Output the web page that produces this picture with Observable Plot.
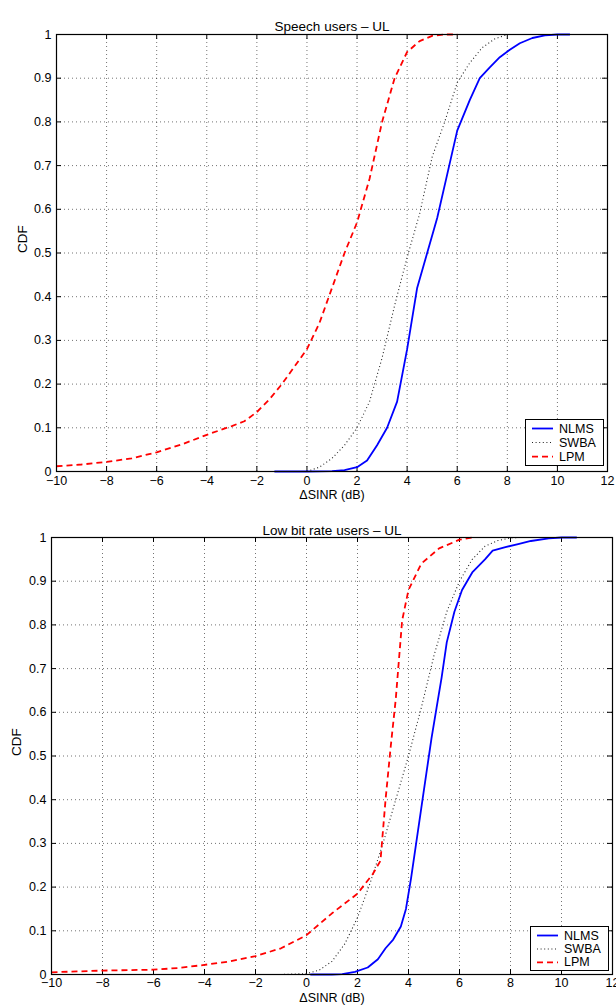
<!DOCTYPE html>
<html>
<head>
<meta charset="utf-8">
<script src="https://cdn.jsdelivr.net/npm/d3@7"></script>
<script src="https://cdn.jsdelivr.net/npm/@observablehq/plot@0.6"></script>
<style>
  html, body { margin: 0; padding: 0; background: #fff; }
  #wrap { position: relative; width: 616px; height: 1007px; overflow: hidden; font-family: "Liberation Sans", Arial, sans-serif; }
  .panel { position: absolute; left: 0; }
  .legend { position: absolute; background: #fff; border: 1.3px solid #000; box-sizing: border-box; }
</style>
</head>
<body>
<div id="wrap"></div>
<script>
// ---------- tick labels / categories ----------
const xTicks = [-10, -8, -6, -4, -2, 0, 2, 4, 6, 8, 10, 12];
const yTicks = [0, 0.1, 0.2, 0.3, 0.4, 0.5, 0.6, 0.7, 0.8, 0.9, 1];
const seriesNames = ["NLMS", "SWBA", "LPM"];
const panelTitles = ["Speech users – UL", "Low bit rate users – UL"];
const xLabel = "ΔSINR (dB)";
const yLabel = "CDF";

// ---------- Speech users – UL ----------
const speechNlmsX = [-1.3, 0, 1, 1.5, 2, 2.4, 2.8, 3.2, 3.6, 4, 4.4, 4.8, 5.2, 5.6, 6, 6.5, 6.9, 7.3, 7.7, 8.1, 8.5, 9, 9.5, 10, 10.5];
const speechNlmsY = [0, 0, 0.001, 0.003, 0.01, 0.025, 0.06, 0.1, 0.16, 0.28, 0.42, 0.5, 0.58, 0.68, 0.78, 0.85, 0.9, 0.925, 0.948, 0.965, 0.98, 0.992, 0.998, 1, 1];
const speechSwbaX = [0, 0.5, 1, 1.5, 2, 2.5, 3, 3.5, 4, 4.5, 5, 5.5, 6, 6.5, 7, 7.5, 8];
const speechSwbaY = [0, 0.01, 0.03, 0.06, 0.1, 0.16, 0.26, 0.38, 0.49, 0.59, 0.72, 0.8, 0.89, 0.935, 0.97, 0.99, 1];
const speechLpmX = [-10, -9, -8, -7, -6, -5, -4, -3, -2.5, -2, -1.5, -1, -0.5, 0, 0.5, 1, 1.5, 2, 2.5, 3, 3.5, 4, 4.5, 5, 5.5, 6];
const speechLpmY = [0.012, 0.016, 0.022, 0.03, 0.044, 0.062, 0.084, 0.104, 0.115, 0.136, 0.165, 0.2, 0.24, 0.28, 0.34, 0.42, 0.5, 0.57, 0.67, 0.8, 0.9, 0.96, 0.985, 0.997, 1, 1];

// ---------- Low bit rate users – UL ----------
const lowNlmsX = [0.15, 1, 1.4, 1.9, 2.4, 2.8, 3.1, 3.4, 3.7, 3.9, 4.1, 4.3, 4.5, 4.7, 4.9, 5.1, 5.3, 5.5, 5.8, 6.1, 6.5, 7, 7.3, 7.8, 8.3, 8.8, 9.5, 10, 10.6];
const lowNlmsY = [0, 0, 0.001, 0.006, 0.016, 0.035, 0.06, 0.08, 0.11, 0.15, 0.22, 0.3, 0.38, 0.46, 0.54, 0.61, 0.68, 0.76, 0.83, 0.88, 0.92, 0.95, 0.97, 0.978, 0.985, 0.992, 0.998, 1, 1];
const lowSwbaX = [-3, -2, -1, 0, 0.5, 1, 1.5, 2, 2.5, 3, 3.5, 4, 4.5, 5, 5.5, 6, 6.5, 7, 7.5, 8, 8.3];
const lowSwbaY = [0, 0, 0, 0.002, 0.01, 0.03, 0.07, 0.13, 0.21, 0.3, 0.4, 0.5, 0.61, 0.73, 0.83, 0.9, 0.95, 0.98, 0.993, 0.999, 1];
const lowLpmX = [-10, -9, -8, -7, -6, -5, -4, -3, -2, -1, 0, 1, 2, 2.6, 2.9, 3.1, 3.3, 3.5, 3.75, 4, 4.5, 5.2, 6, 6.5];
const lowLpmY = [0.005, 0.007, 0.009, 0.01, 0.011, 0.015, 0.022, 0.03, 0.042, 0.06, 0.09, 0.14, 0.185, 0.23, 0.26, 0.4, 0.52, 0.63, 0.81, 0.88, 0.94, 0.975, 0.995, 1];

// ---------- styles ----------
const seriesStyle = {
  NLMS: {stroke: "#0000ff", strokeWidth: 1.8, strokeDasharray: null},
  SWBA: {stroke: "#222", strokeWidth: 1.1, strokeDasharray: "1,2.6"},
  LPM:  {stroke: "#ff0000", strokeWidth: 1.8, strokeDasharray: "6,4"}
};

const zip = (xs, ys, name) => xs.map((x, i) => ({x, y: ys[i], series: name}));

const panels = [
  {
    title: panelTitles[0], top: 0, height: 504,
    marginLeft: 56, marginRight: 9, marginTop: 34, marginBottom: 33,
    data: {
      NLMS: zip(speechNlmsX, speechNlmsY, "NLMS"),
      SWBA: zip(speechSwbaX, speechSwbaY, "SWBA"),
      LPM:  zip(speechLpmX, speechLpmY, "LPM")
    },
    titleDy: -13, ylabelDx: -34, xlabelDy: 27, tickPad: 5, legend: {left: 525, top: 419, width: 79, height: 47}
  },
  {
    title: panelTitles[1], top: 504, height: 503,
    marginLeft: 51, marginRight: 4, marginTop: 33, marginBottom: 33,
    data: {
      NLMS: zip(lowNlmsX, lowNlmsY, "NLMS"),
      SWBA: zip(lowSwbaX, lowSwbaY, "SWBA"),
      LPM:  zip(lowLpmX, lowLpmY, "LPM")
    },
    titleDy: -12, ylabelDx: -35, xlabelDy: 27, tickPad: 4, legend: {left: 530, top: 926 , width: 79, height: 45}
  }
];

const wrap = document.getElementById("wrap");

for (const p of panels) {
  const plotH = p.height - p.marginTop - p.marginBottom;
  const plotW = 616 - p.marginLeft - p.marginRight;
  const tickLen = 5;
  const gridStyle = {stroke: "#000", strokeOpacity: 0.55, strokeDasharray: "1,3", strokeWidth: 1};
  const chart = Plot.plot({
    width: 616,
    height: p.height,
    marginLeft: p.marginLeft,
    marginRight: p.marginRight,
    marginTop: p.marginTop,
    marginBottom: p.marginBottom,
    style: {fontFamily: "'Liberation Sans', Arial, sans-serif", fontSize: "12px", color: "#000", background: "transparent", overflow: "visible"},
    x: {domain: [-10, 12], ticks: xTicks},
    y: {domain: [0, 1], ticks: yTicks},
    marks: [
      Plot.gridX(xTicks.slice(1, -1), gridStyle),
      Plot.gridY(yTicks.slice(1, -1), gridStyle),
      // inward ticks, all four sides
      Plot.tickX(xTicks, {x: d => d, stroke: "#000", insetTop: plotH - tickLen}),
      Plot.tickX(xTicks, {x: d => d, stroke: "#000", insetBottom: plotH - tickLen}),
      Plot.tickY(yTicks, {y: d => d, stroke: "#000", insetRight: plotW - tickLen}),
      Plot.tickY(yTicks, {y: d => d, stroke: "#000", insetLeft: plotW - tickLen}),
      ...seriesNames.map(name => Plot.line(p.data[name], {
        x: "x", y: "y",
        stroke: seriesStyle[name].stroke,
        strokeWidth: seriesStyle[name].strokeWidth,
        strokeDasharray: seriesStyle[name].strokeDasharray,
        strokeLinecap: "butt",
        strokeLinejoin: "round"
      })),
      Plot.frame({stroke: "#000", strokeWidth: 1.2}),
      Plot.axisX(xTicks, {tickSize: 0, tickPadding: p.tickPad, label: null, fontSize: 12.5}),
      Plot.axisY(yTicks, {tickSize: 0, tickPadding: 5, label: null, tickFormat: d3.format("~g"), fontSize: 12.5}),
      Plot.text([p.title], {frameAnchor: "top", dy: p.titleDy, fontSize: 13.5}),
      Plot.text([xLabel], {frameAnchor: "bottom", dy: p.xlabelDy, fontSize: 12.5}),
      Plot.text([yLabel], {frameAnchor: "left", dx: p.ylabelDx, rotate: -90, fontSize: 13.5})
    ]
  });
  chart.classList.add("panel");
  chart.style.top = p.top + "px";
  wrap.appendChild(chart);

  // legend (drawn as an overlay box)
  const lg = document.createElement("div");
  lg.className = "legend";
  Object.assign(lg.style, {left: p.legend.left + "px", top: p.legend.top + "px", width: p.legend.width + "px", height: p.legend.height + "px"});
  const ns = "http://www.w3.org/2000/svg";
  const svg = document.createElementNS(ns, "svg");
  svg.setAttribute("width", p.legend.width - 2);
  svg.setAttribute("height", p.legend.height - 2);
  svg.style.display = "block";
  const rowGap = (p.legend.height - 2) / 3.2;
  seriesNames.forEach((name, i) => {
    const cy = 8.5 + i * rowGap;
    const ln = document.createElementNS(ns, "line");
    ln.setAttribute("x1", 6); ln.setAttribute("x2", 27);
    ln.setAttribute("y1", cy); ln.setAttribute("y2", cy);
    ln.setAttribute("stroke", seriesStyle[name].stroke);
    ln.setAttribute("stroke-width", seriesStyle[name].strokeWidth);
    if (seriesStyle[name].strokeDasharray) ln.setAttribute("stroke-dasharray", seriesStyle[name].strokeDasharray);
    svg.appendChild(ln);
    const tx = document.createElementNS(ns, "text");
    tx.setAttribute("x", 33); tx.setAttribute("y", cy);
    tx.setAttribute("dominant-baseline", "central");
    tx.setAttribute("font-size", 12.5);
    tx.setAttribute("font-family", "'Liberation Sans', Arial, sans-serif");
    tx.textContent = name;
    svg.appendChild(tx);
  });
  lg.appendChild(svg);
  wrap.appendChild(lg);
}
</script>
</body>
</html>
